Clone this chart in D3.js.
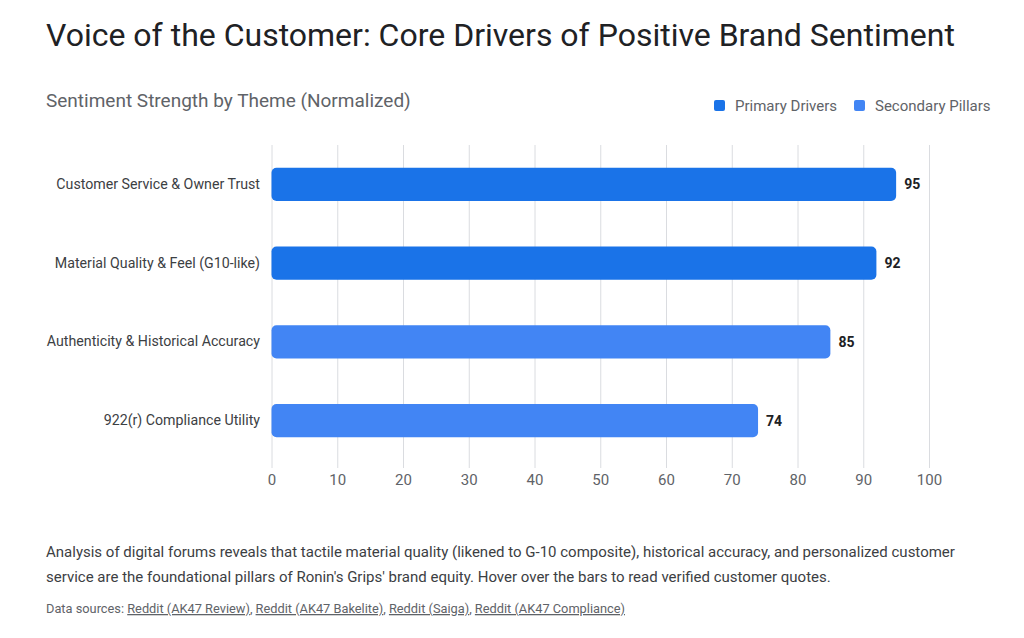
<!DOCTYPE html>
<html>
<head>
<meta charset="utf-8">
<script src="https://cdn.jsdelivr.net/npm/d3@7"></script>
<style>
  body { margin: 0; background: #fff; font-family: Roboto, "Open Sans", sans-serif; }
  #svg { display: block; }
</style>
</head>
<body>
<svg id="svg" width="1024" height="638"></svg>
<script>
const categories = ["Customer Service & Owner Trust", "Material Quality & Feel (G10-like)", "Authenticity & Historical Accuracy", "922(r) Compliance Utility"]
const values = [95, 92, 85, 74]
const groups = ["Primary Drivers", "Primary Drivers", "Secondary Pillars", "Secondary Pillars"]
const legendItems = ["Primary Drivers", "Secondary Pillars"]
const xTicks = [0, 10, 20, 30, 40, 50, 60, 70, 80, 90, 100]
const sources = ["Reddit (AK47 Review)", "Reddit (AK47 Bakelite)", "Reddit (Saiga)", "Reddit (AK47 Compliance)"]

const svg = d3.select('#svg')
const marginLeft = 271.5, marginRight = 95, marginTop = 145, plotBottom = 468
const width = 1024

const color = d3.scaleOrdinal().domain(legendItems).range(["#1a73e8", "#4285f4"])

const x = d3.scaleLinear().domain([0, 100]).range([marginLeft, width - marginRight])
// bands sit a bit above the bottom of the grid
const y = d3.scaleBand().domain(categories).range([marginTop, 460]).paddingInner(0.58).paddingOuter(0.29)

// title + subtitle
svg.append('text')
    .attr('x', 46).attr('y', 46)
    .style('font-size', '32px').style('fill', '#202124')
    .text("Voice of the Customer: Core Drivers of Positive Brand Sentiment")

svg.append('text')
    .attr('x', 46).attr('y', 107)
    .style('font-size', '19px').style('fill', '#5f6368')
    .text("Sentiment Strength by Theme (Normalized)")

// legend
const legendX = [714, 854]
legendItems.forEach((d, i) => {
    svg.append('rect')
        .attr('x', legendX[i]).attr('y', 100)
        .attr('width', 11).attr('height', 11).attr('rx', 2)
        .style('fill', color(d))
    svg.append('text')
        .attr('x', legendX[i] + 21).attr('y', 111)
        .style('font-size', '15px').style('fill', '#5f6368')
        .text(d)
})

// grid + x axis
const xAxis = svg.append('g')
    .attr('transform', `translate(0,${plotBottom})`)
    .call(d3.axisBottom(x).tickValues(xTicks).tickSize(-(plotBottom - marginTop)).tickPadding(6))
xAxis.select('.domain').remove()
xAxis.selectAll('line').style('stroke', '#dadce0')
xAxis.selectAll('text').style('font-size', '15px').style('fill', '#5f6368').style('font-family', 'Roboto, sans-serif')

// y labels
const yAxis = svg.append('g')
    .attr('transform', `translate(${marginLeft - 8.5},0)`)
    .call(d3.axisLeft(y).tickSize(0))
yAxis.select('.domain').remove()
yAxis.selectAll('text').style('font-size', '14.2px').style('fill', '#3c4043').style('font-family', 'Roboto, sans-serif')

// bars
svg.selectAll('.bar')
    .data(categories)
    .enter()
    .append('rect')
        .attr('class', 'bar')
        .attr('x', x(0))
        .attr('y', d => y(d))
        .attr('width', (d, i) => x(values[i]) - x(0))
        .attr('height', y.bandwidth())
        .attr('rx', 5)
        .style('fill', (d, i) => color(groups[i]))

// value labels
svg.selectAll('.val')
    .data(categories)
    .enter()
    .append('text')
        .attr('x', (d, i) => x(values[i]) + 8)
        .attr('y', d => y(d) + y.bandwidth() / 2)
        .attr('dy', '0.35em')
        .style('font-size', '14px').style('font-weight', 'bold').style('fill', '#202124')
        .text((d, i) => values[i])

// footnote
const note = svg.append('text')
    .style('font-size', '15px').style('fill', '#3c4043')
note.append('tspan').attr('x', 46).attr('y', 557)
    .text("Analysis of digital forums reveals that tactile material quality (likened to G-10 composite), historical accuracy, and personalized customer")
note.append('tspan').attr('x', 46).attr('y', 582)
    .text("service are the foundational pillars of Ronin's Grips' brand equity. Hover over the bars to read verified customer quotes.")

const src = svg.append('text')
    .attr('x', 46).attr('y', 613)
    .style('font-size', '12.8px').style('fill', '#5f6368')
src.append('tspan').text("Data sources: ")
sources.forEach((s, i) => {
    src.append('tspan').style('text-decoration', 'underline').text(s)
    if (i < sources.length - 1) src.append('tspan').text(", ")
})
</script>
</body>
</html>
